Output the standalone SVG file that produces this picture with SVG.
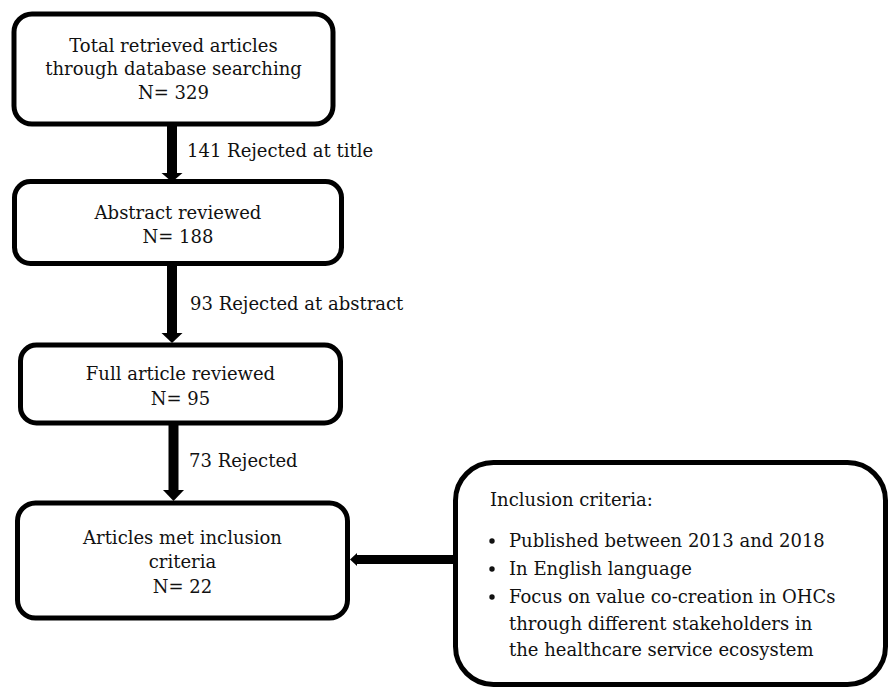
<svg xmlns="http://www.w3.org/2000/svg" width="893" height="688" viewBox="0 0 893 688">
<style>
.box{fill:#fff;stroke:#000;stroke-width:5}
.t{font-family:"DejaVu Serif","Liberation Serif",serif;font-size:18px;fill:#111}
.c{text-anchor:middle}
.shaft{stroke:#000;stroke-width:10;fill:none}
.head{fill:#000}
</style>
<rect width="893" height="688" fill="#fff"/>
<g id="connectors">
<line class="shaft" x1="172" y1="126" x2="172" y2="174"/>
<polygon class="head" points="161.5,173 182.5,173 172,182"/>
<line class="shaft" x1="172" y1="265" x2="172" y2="334"/>
<polygon class="head" points="161.5,333 182.5,333 172,343"/>
<line class="shaft" x1="173.5" y1="424" x2="173.5" y2="491"/>
<polygon class="head" points="163,490 184,490 173.5,501"/>
<line stroke="#000" stroke-width="9" x1="356" y1="559.5" x2="456" y2="559.5"/>
<polygon class="head" points="350,559.5 357,553 357,566"/>
<text class="t" x="187" y="157">141 Rejected at title</text>
<text class="t" x="190" y="310">93 Rejected at abstract</text>
<text class="t" x="189" y="467">73 Rejected</text>
</g>
<g id="n1">
<rect class="box" x="14" y="14" width="319" height="110" rx="18"/>
<text class="t c" x="173.5" y="52">Total retrieved articles</text>
<text class="t c" x="173.5" y="75">through database searching</text>
<text class="t c" x="173.5" y="99">N= 329</text>
</g>
<g id="n2">
<rect class="box" x="14.5" y="181.5" width="327" height="82" rx="16"/>
<text class="t c" x="178" y="219">Abstract reviewed</text>
<text class="t c" x="178" y="243">N= 188</text>
</g>
<g id="n3">
<rect class="box" x="20.5" y="345" width="320" height="78" rx="16"/>
<text class="t c" x="180.5" y="380">Full article reviewed</text>
<text class="t c" x="180.5" y="405">N= 95</text>
</g>
<g id="n4">
<rect class="box" x="17.5" y="503" width="330" height="115" rx="18"/>
<text class="t c" x="182.5" y="544">Articles met inclusion</text>
<text class="t c" x="182.5" y="568">criteria</text>
<text class="t c" x="182.5" y="593">N= 22</text>
</g>
<g id="criteria">
<rect class="box" x="455.5" y="462.5" width="430" height="222" rx="38"/>
<text class="t" x="490" y="506">Inclusion criteria:</text>
<circle cx="492" cy="541" r="2.7" fill="#111"/>
<circle cx="492" cy="569" r="2.7" fill="#111"/>
<circle cx="492" cy="597" r="2.7" fill="#111"/>
<text class="t" x="509" y="547">Published between 2013 and 2018</text>
<text class="t" x="509" y="575">In English language</text>
<text class="t" x="509" y="603">Focus on value co-creation in OHCs</text>
<text class="t" x="509" y="630">through different stakeholders in</text>
<text class="t" x="509" y="656">the healthcare service ecosystem</text>
</g>
</svg>
